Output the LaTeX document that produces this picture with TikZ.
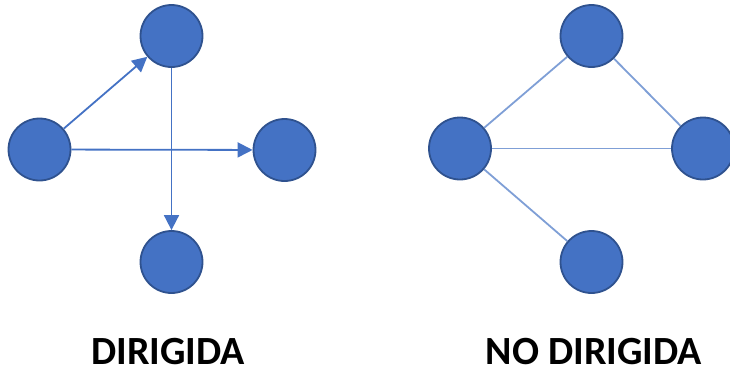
\documentclass[tikz,border=0pt]{standalone}
\usepackage{fontspec}
\setmainfont{Carlito}
\usetikzlibrary{arrows.meta}
\definecolor{nodefill}{HTML}{4472C4}
\definecolor{nodeborder}{HTML}{2F528F}
\definecolor{edgecol}{HTML}{4472C4}
\definecolor{uedgecol}{HTML}{7F9FD6}
\begin{document}
\begin{tikzpicture}[x=1pt,y=-1pt,
  vertex/.style={circle,fill=nodefill,draw=nodeborder,line width=1.8pt,minimum size=62pt,inner sep=0pt},
  darc/.style={draw=edgecol,line width=1.8pt,-{Triangle[length=15pt,width=15pt]}},
  uarc/.style={draw=uedgecol,line width=1.8pt},
  caption/.style={font=\fontsize{40}{44}\selectfont\bfseries,text=black,anchor=base,inner sep=0pt,text depth=0pt}]
\useasboundingbox (0,0) rectangle (730,373);
% directed
\node[vertex] (dt) at (171.5,36) {};
\node[vertex] (dl) at (39.5,149.5) {};
\node[vertex] (dr) at (284.5,150) {};
\node[vertex] (db) at (171.5,262) {};
\draw[darc] (dl) -- (dt);
\draw[darc] (dl) -- (dr);
\draw[darc] (dt) -- (db);
% undirected
\node[vertex] (ut) at (591.5,36) {};
\node[vertex] (ul) at (460,148.5) {};
\node[vertex] (ur) at (703,148.5) {};
\node[vertex] (ub) at (591.5,262) {};
\draw[uarc] (ul) -- (ut);
\draw[uarc] (ut) -- (ur);
\draw[uarc] (ul) -- (ur);
\draw[uarc] (ul) -- (ub);
% captions
\node[caption] (c1) at (168,364) {DIRIGIDA};
\node[caption] (c2) at (594,364) {NO DIRIGIDA};
\end{tikzpicture}
\end{document}
